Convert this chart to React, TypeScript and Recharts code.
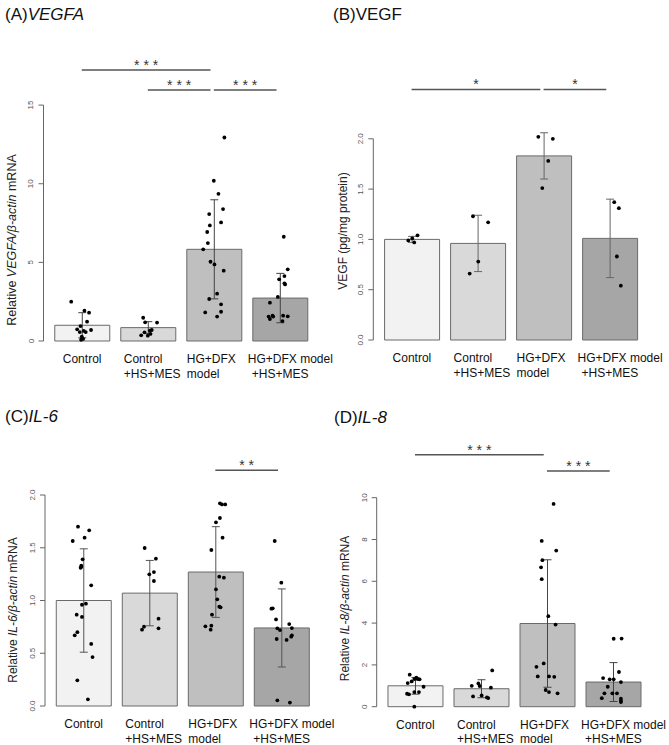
import React from "react";
import {
  ComposedChart,
  Bar,
  Cell,
  ErrorBar,
  Scatter,
  XAxis,
  YAxis,
  ReferenceLine,
} from "recharts";

const FONT = "'Liberation Sans', Arial, sans-serif";

const groups = ["Control", "Control\n+HS+MES", "HG+DFX\nmodel", "HG+DFX model\n+HS+MES"];
const groupFills = ["#f2f2f2", "#d9d9d9", "#bfbfbf", "#a6a6a6"];

// (A) VEGFA mRNA: mean, SD, and each sample as [jitter, value]
const vegfaMean = [1.0, 0.85, 5.83, 2.73];
const vegfaSd = [0.8, 0.38, 3.15, 1.57];
const vegfaTicks = [0, 5, 10, 15];
const vegfaDots = [
  [[-0.16, 2.5], [0.04, 1.93], [0.11, 1.8], [0.08, 1.23], [-0.02, 0.95], [-0.07, 0.74], [0.03, 0.64],
   [0.06, 0.57], [0.14, 0.7], [-0.03, 0.57], [0.0, 0.28], [0.02, 0.13], [-0.01, 0.08]],
  [[-0.07, 1.48], [-0.04, 1.19], [0.14, 1.17], [0.03, 0.66], [0.06, 0.7], [-0.05, 0.55], [-0.1, 0.36],
   [0.0, 0.34], [0.04, 0.45]],
  [[0.16, 12.94], [0.0, 10.19], [0.07, 9.36], [0.14, 8.39], [-0.07, 8.07], [0.11, 7.54], [-0.06, 7.35],
   [-0.1, 6.93], [-0.09, 6.23], [-0.16, 5.83], [-0.05, 5.04], [0.01, 4.87], [0.15, 4.47], [0.05, 3.01],
   [-0.07, 2.67], [0.11, 2.33], [-0.13, 1.82], [0.11, 1.86], [0.05, 1.55]],
  [[0.06, 6.63], [0.12, 4.56], [0.07, 4.13], [-0.01, 3.92], [0.07, 3.67], [0.08, 3.6], [-0.03, 2.8],
   [-0.15, 2.44], [-0.17, 1.55], [-0.11, 1.61], [-0.15, 1.4], [-0.1, 1.55], [0.05, 1.61], [0.12, 1.57],
   [0.04, 1.27]],
];

// (B) VEGF protein
const vegfMean = [1.0, 0.96, 1.83, 1.01];
const vegfSd = [0.03, 0.28, 0.23, 0.39];
const vegfTicks = [0, 0.5, 1, 1.5, 2];
const vegfDots = [
  [[-0.05, 0.99], [0.01, 1.01], [0.04, 0.97], [0.09, 1.04]],
  [[-0.07, 1.23], [0.16, 1.17], [0.01, 0.78], [-0.12, 0.66]],
  [[-0.08, 2.02], [0.14, 2.0], [0.07, 1.78], [-0.02, 1.51]],
  [[0.07, 1.37], [0.14, 1.31], [0.11, 0.83], [0.17, 0.54]],
];

// (C) IL-6 mRNA
const il6Mean = [1.0, 1.07, 1.27, 0.74];
const il6Sd = [0.49, 0.31, 0.43, 0.37];
const il6Ticks = [0, 0.5, 1, 1.5, 2];
const il6Dots = [
  [[-0.08, 1.7], [0.09, 1.665], [-0.16, 1.564], [0.02, 1.596], [-0.01, 1.39], [-0.03, 1.33], [-0.03, 1.32],
   [-0.04, 1.31], [0.12, 1.144], [-0.02, 0.96], [0.04, 0.97], [-0.1, 0.866], [-0.02, 0.844], [-0.09, 0.7],
   [-0.13, 0.67], [0.12, 0.588], [0.14, 0.464], [-0.09, 0.243], [0.07, 0.063]],
  [[-0.07, 1.498], [0.1, 1.397], [0.07, 1.27], [0.0, 1.248], [0.07, 1.185], [0.14, 0.828], [-0.08, 0.752],
   [-0.11, 0.724], [0.14, 0.736]],
  [[0.07, 1.921], [0.1, 1.911], [0.15, 1.911], [0.07, 1.782], [0.01, 1.741], [0.11, 1.596], [-0.06, 1.479],
   [0.06, 1.226], [0.13, 1.216], [0.01, 1.106], [0.03, 1.011], [0.06, 0.942], [0.08, 0.935], [-0.05, 0.866],
   [-0.15, 0.755], [-0.06, 0.761], [-0.07, 0.724]],
  [[-0.1, 1.564], [0.0, 1.169], [-0.15, 0.923], [-0.13, 0.926], [-0.08, 0.821], [0.12, 0.777], [-0.06, 0.736],
   [-0.02, 0.72], [0.16, 0.739], [0.16, 0.67], [0.15, 0.657], [-0.07, 0.635], [0.08, 0.626], [-0.06, 0.054],
   [0.13, 0.032]],
];

// (D) IL-8 mRNA
const il8Mean = [1.0, 0.86, 3.98, 1.18];
const il8Sd = [0.4, 0.43, 3.05, 0.93];
const il8Ticks = [0, 2, 4, 6, 8, 10];
const il8Dots = [
  [[-0.08, 1.53], [-0.11, 1.13], [-0.05, 1.21], [-0.01, 1.32], [0.02, 1.385], [0.04, 1.32], [0.07, 1.31],
   [0.13, 0.955], [-0.12, 0.62], [-0.09, 0.59], [-0.01, 0.7], [0.06, 0.7], [-0.01, 0.0]],
  [[0.17, 1.736], [-0.14, 1.0], [-0.04, 1.115], [-0.02, 0.99], [0.15, 0.91], [-0.12, 0.49], [0.01, 0.54],
   [0.09, 0.446], [0.11, 0.414]],
  [[0.1, 9.7], [-0.08, 7.93], [0.14, 7.47], [-0.07, 7.01], [-0.09, 6.67], [-0.08, 6.1], [0.02, 4.33],
   [0.13, 3.93], [-0.05, 2.07], [-0.16, 1.91], [-0.14, 1.45], [0.03, 1.45], [0.11, 1.43], [-0.02, 0.8],
   [0.03, 0.7], [0.16, 0.64]],
  [[0.01, 3.25], [0.13, 3.26], [0.09, 1.66], [-0.15, 1.37], [-0.05, 1.31], [0.01, 1.31], [0.12, 1.18],
   [-0.08, 0.955], [-0.13, 0.64], [-0.01, 0.64], [0.06, 0.64], [-0.17, 0.41], [0.12, 0.38], [0.12, 0.29],
   [0.12, 0.22]],
];

type Bracket = { from: number; to: number; y: number; stars: string };

const vegfaBrackets: Bracket[] = [
  { from: 1, to: 3, y: 17.23, stars: "* * *" },
  { from: 2, to: 3, y: 15.96, stars: "* * *" },
  { from: 3, to: 4, y: 15.96, stars: "* * *" },
];
const vegfBrackets: Bracket[] = [
  { from: 1, to: 3, y: 2.49, stars: "*" },
  { from: 3, to: 4, y: 2.49, stars: "*" },
];
const il6Brackets: Bracket[] = [{ from: 3, to: 4, y: 2.234, stars: "* *" }];
const il8Brackets: Bracket[] = [
  { from: 1, to: 3, y: 12.06, stars: "* * *" },
  { from: 3, to: 4, y: 11.28, stars: "* * *" },
];

// group label lines are left aligned, offset from the bar centre
const labelShift = [[-19], [-24, -24], [-27, -27], [-32, -28]];
const X_DOMAIN: [number, number] = [0.42, 4.58];
const PLOT_WIDTH = 274.6;
const MARGIN_TOP = 40;

function GroupTick(props: any) {
  const { x, y, payload } = props;
  const i = Math.round(payload.value) - 1;
  if (i < 0 || i >= groups.length) return null;
  const lines = groups[i].split("\n");
  return (
    <g>
      {lines.map((line, k) => (
        <text key={k} x={x + labelShift[i][k]} y={y + 22 + k * 14.5} fontSize={12} fill="#111" fontFamily={FONT}>
          {line}
        </text>
      ))}
    </g>
  );
}

function ValueTick(props: any) {
  const { x, y, payload, digits } = props;
  const bx = x - 3;
  return (
    <text x={bx} y={y} transform={`rotate(-90 ${bx} ${y})`} textAnchor="middle" fontSize={8} fill="#555" fontFamily={FONT}>
      {Number(payload.value).toFixed(digits)}
    </text>
  );
}

const Dot = (props: any) => <circle cx={props.cx} cy={props.cy} r={1.9} fill="#000" />;

type PanelProps = {
  left: number;
  top: number;
  width: number;
  height: number;
  axisWidth: number;
  plotHeight: number;
  yMax: number;
  ticks: number[];
  digits: number;
  mean: number[];
  sd: number[];
  dots: number[][][];
  brackets: Bracket[];
  errColor: string;
  title: React.ReactNode;
  titleX: number;
  titleY: number;
  yTitle: React.ReactNode;
  yTitleX: number;
  yTitleY: number;
  yTitleSize: number;
};

function Panel(p: PanelProps) {
  const bars = p.mean.map((m, i) => ({ x: i + 1, mean: m, sd: p.sd[i] }));
  const points = p.dots.flatMap((g, i) => g.map(([dx, v]) => ({ x: i + 1 + dx, y: v })));
  const axisTop = p.ticks[p.ticks.length - 1];

  return (
    <div style={{ position: "absolute", left: p.left, top: p.top, width: p.width, height: p.height }}>
      <ComposedChart
        width={p.width}
        height={p.height}
        data={bars}
        margin={{ top: MARGIN_TOP, right: p.width - p.axisWidth - PLOT_WIDTH, bottom: 0, left: 0 }}
        style={{ fontFamily: FONT }}
      >
        <XAxis
          xAxisId="bar"
          type="number"
          dataKey="x"
          domain={X_DOMAIN}
          ticks={[1, 2, 3, 4]}
          interval={0}
          height={p.height - MARGIN_TOP - p.plotHeight}
          axisLine={false}
          tickLine={false}
          tickSize={0}
          tickMargin={0}
          tick={<GroupTick />}
        />
        <XAxis xAxisId="dot" type="number" dataKey="x" domain={X_DOMAIN} hide />
        <YAxis
          type="number"
          domain={[0, p.yMax]}
          ticks={p.ticks}
          interval={0}
          width={p.axisWidth}
          axisLine={false}
          tickLine={{ stroke: "#666" }}
          tickSize={5}
          tickMargin={2}
          tick={<ValueTick digits={p.digits} />}
        />
        <ReferenceLine
          xAxisId="bar"
          segment={[{ x: X_DOMAIN[0], y: 0 }, { x: X_DOMAIN[0], y: axisTop }]}
          stroke="#666"
          ifOverflow="visible"
        />
        <Bar xAxisId="bar" dataKey="mean" barSize={55} stroke="#6a6a6a" strokeWidth={1} isAnimationActive={false}>
          {bars.map((_, i) => (
            <Cell key={i} fill={groupFills[i]} />
          ))}
          <ErrorBar dataKey="sd" width={4} stroke={p.errColor} strokeWidth={1} direction="y" />
        </Bar>
        <Scatter xAxisId="dot" data={points} dataKey="y" shape={Dot} isAnimationActive={false} />
        {p.brackets.map((b, k) => (
          <ReferenceLine
            key={k}
            xAxisId="bar"
            segment={[{ x: b.from, y: b.y }, { x: b.to - 0.05, y: b.y }]}
            stroke="#555"
            strokeWidth={1.5}
            ifOverflow="visible"
            label={{ value: b.stars, position: "top", offset: 0, fill: "#333", fontSize: 14, fontFamily: FONT }}
          />
        ))}
      </ComposedChart>
      <svg
        width={p.width}
        height={p.height}
        style={{ position: "absolute", left: 0, top: 0, overflow: "visible", pointerEvents: "none" }}
      >
        <text x={p.titleX} y={p.titleY} fontSize={17} fill="#111" fontFamily={FONT}>
          {p.title}
        </text>
        <text
          x={p.yTitleX}
          y={p.yTitleY}
          transform={`rotate(-90 ${p.yTitleX} ${p.yTitleY})`}
          textAnchor="middle"
          fontSize={p.yTitleSize}
          fill="#222"
          fontFamily={FONT}
        >
          {p.yTitle}
        </text>
      </svg>
    </div>
  );
}

export default function App() {
  return (
    <div style={{ position: "absolute", left: 0, top: 0, width: 669, height: 745, background: "#fff", overflow: "hidden" }}>
      <Panel
        left={0}
        top={0}
        width={335}
        height={385}
        axisWidth={43.5}
        plotHeight={301}
        yMax={19.14}
        ticks={vegfaTicks}
        digits={0}
        mean={vegfaMean}
        sd={vegfaSd}
        dots={vegfaDots}
        brackets={vegfaBrackets}
        errColor="#444"
        title={<>(A)<tspan fontStyle="italic">VEGFA</tspan></>}
        titleX={5}
        titleY={19.5}
        yTitle={<>Relative <tspan fontStyle="italic">VEGFA/β-actin</tspan> mRNA</>}
        yTitleX={16}
        yTitleY={240}
        yTitleSize={12.5}
      />
      <Panel
        left={335}
        top={0}
        width={334}
        height={385}
        axisWidth={38.3}
        plotHeight={300}
        yMax={2.982}
        ticks={vegfTicks}
        digits={1}
        mean={vegfMean}
        sd={vegfSd}
        dots={vegfDots}
        brackets={vegfBrackets}
        errColor="#666"
        title="(B)VEGF"
        titleX={-2}
        titleY={19.5}
        yTitle="VEGF (pg/mg protein)"
        yTitleX={12}
        yTitleY={231}
        yTitleSize={12}
      />
      <Panel
        left={0}
        top={372}
        width={335}
        height={373}
        axisWidth={45}
        plotHeight={294}
        yMax={2.787}
        ticks={il6Ticks}
        digits={1}
        mean={il6Mean}
        sd={il6Sd}
        dots={il6Dots}
        brackets={il6Brackets}
        errColor="#555"
        title={<>(C)<tspan fontStyle="italic">IL-6</tspan></>}
        titleX={5}
        titleY={50}
        yTitle={<>Relative <tspan fontStyle="italic">IL-6/β-actin</tspan> mRNA</>}
        yTitleX={16.5}
        yTitleY={238}
        yTitleSize={12}
      />
      <Panel
        left={335}
        top={372}
        width={334}
        height={373}
        axisWidth={41.7}
        plotHeight={294.7}
        yMax={14.1}
        ticks={il8Ticks}
        digits={0}
        mean={il8Mean}
        sd={il8Sd}
        dots={il8Dots}
        brackets={il8Brackets}
        errColor="#444"
        title={<>(D)<tspan fontStyle="italic">IL-8</tspan></>}
        titleX={-1}
        titleY={51}
        yTitle={<>Relative <tspan fontStyle="italic">IL-8/β-actin</tspan> mRNA</>}
        yTitleX={13.5}
        yTitleY={236.5}
        yTitleSize={12}
      />
    </div>
  );
}
